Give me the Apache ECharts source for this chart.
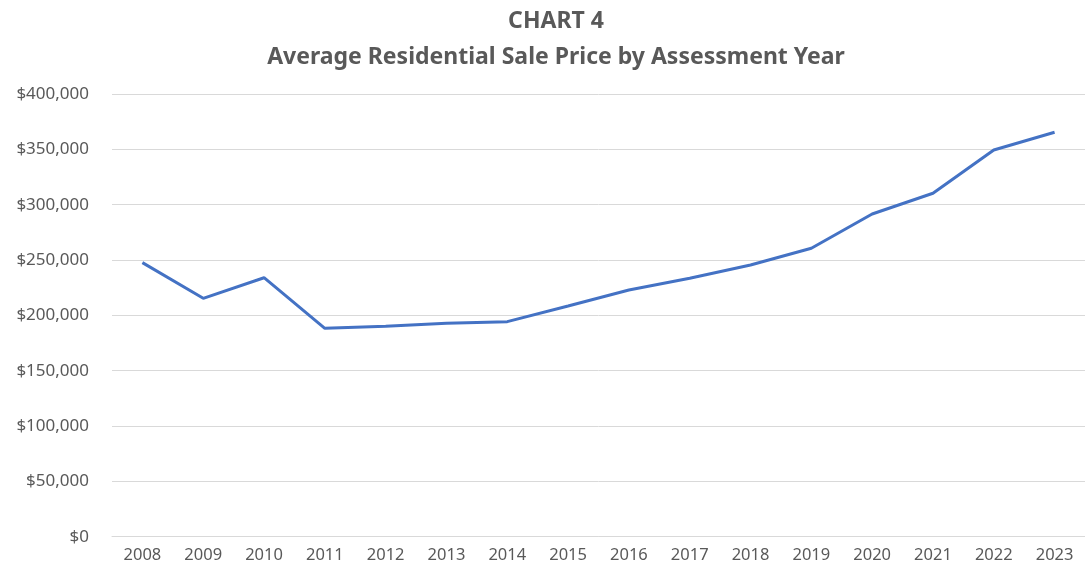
<!DOCTYPE html>
<html><head><meta charset="utf-8">
<script src="https://cdn.jsdelivr.net/npm/echarts@6/dist/echarts.min.js"></script>
<style>html,body{margin:0;padding:0;background:#fff}#c{width:1085px;height:570px}</style>
</head><body><div id="c"></div>
<script>
const years = ['2008','2009','2010','2011','2012','2013','2014','2015','2016','2017','2018','2019','2020','2021','2022','2023'];
const avgPrice = [247600,215400,234000,188300,190200,192800,194300,208400,222900,233500,245500,260600,291600,310300,349400,365400];
const yTicks = {min:0, max:400000, interval:50000};
const titleLines = ['CHART 4','Average Residential Sale Price by Assessment Year'];

const chart = echarts.init(document.getElementById('c'), null, {renderer:'canvas'});
const font = '"Noto Sans", "Open Sans", sans-serif';
chart.setOption({
  animation:false,
  title:{
    text: titleLines.join('\n'),
    left: 551, top: -2, textAlign:'center',
    textStyle:{fontFamily:font, fontSize:23, fontWeight:'bold', color:'#595959', lineHeight:36}
  },
  grid:{left:112, top:94, width:978, bottom:33.3, containLabel:false},
  xAxis:{
    type:'category', data:years, boundaryGap:true,
    axisLine:{show:true, lineStyle:{color:'#d9d9d9', width:1}},
    axisTick:{show:false},
    axisLabel:{fontFamily:font, fontSize:16.5, color:'#595959', margin:10, interval:0}
  },
  yAxis:{
    type:'value', min:yTicks.min, max:yTicks.max, interval:yTicks.interval,
    axisLine:{show:false}, axisTick:{show:false},
    splitLine:{lineStyle:{color:'#d9d9d9', width:1}},
    axisLabel:{fontFamily:font, fontSize:17, color:'#595959', margin:23,
      formatter:v=>'$'+v.toLocaleString('en-US')}
  },
  series:[{
    type:'line', data:avgPrice, symbol:'none', smooth:false,
    lineStyle:{color:'#4472C4', width:3}
  }]
});
</script></body></html>
